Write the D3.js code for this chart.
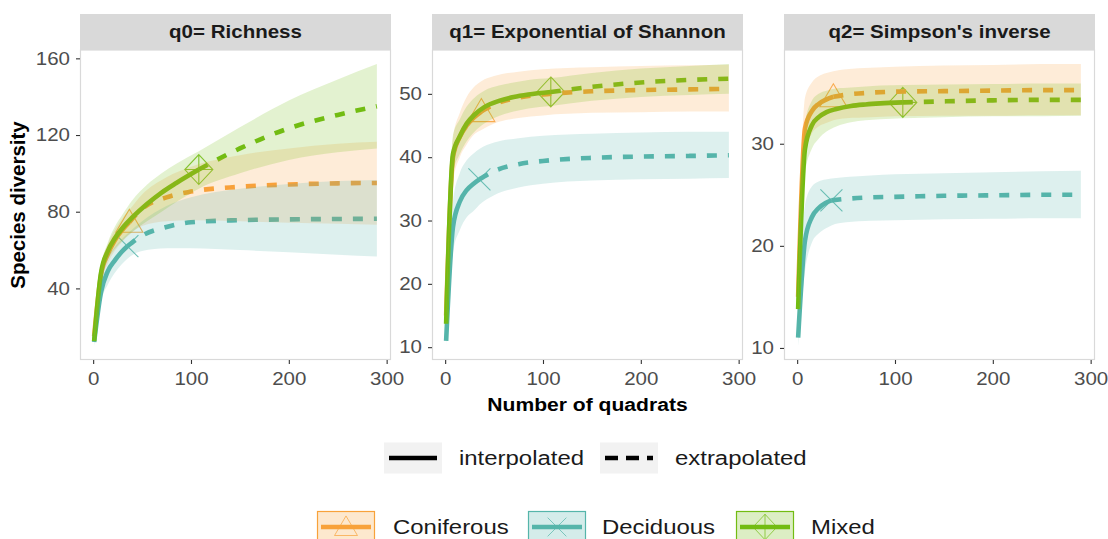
<!DOCTYPE html>
<html>
<head>
<meta charset="utf-8">
<script src="https://cdn.jsdelivr.net/npm/d3@7"></script>
<style>
  body { margin: 0; background: #fff; }
  text { font-family: "Liberation Sans", Arial, sans-serif; }
</style>
</head>
<body>
<svg id="chart" width="1108" height="539"></svg>
<script>
// ---- data -------------------------------------------------------------
const sites = ["Coniferous", "Deciduous", "Mixed"];
const siteColors = ["#F8A23A", "#55B5AA", "#72BC12"];
const observedQuadrats = [37, 35, 108];

// sample sizes (number of quadrats) at which the curves are evaluated
const quadratsConiferous = [1, 8, 15, 22, 29, 37, 50, 75, 100, 150, 200, 250, 290];
const quadratsDeciduous  = [1, 8, 15, 22, 29, 35, 50, 75, 100, 150, 200, 250, 290];
const quadratsMixed      = [1, 8, 15, 22, 30, 40, 55, 70, 85, 108, 150, 200, 250, 290];

// q0 – species richness
const q0Coniferous   = [15, 47, 58, 65, 70, 74.5, 81.5, 87.5, 90.5, 93, 94.2, 94.8, 95];
const q0ConiferousLo = [13, 43, 53, 59.5, 64, 68, 72.5, 75, 75.5, 75, 74.3, 73.7, 73.2];
const q0ConiferousHi = [17, 51, 63, 70.5, 76, 81, 89, 98, 103.5, 109.5, 113, 115.5, 116.5];
const q0Deciduous    = [12, 38, 49, 54.5, 59, 62, 67.5, 72, 74.5, 75.6, 76, 76.2, 76.3];
const q0DeciduousLo  = [10, 33, 42, 48, 52.5, 55.5, 59.5, 61, 61, 60, 58.8, 57.5, 56.6];
const q0DeciduousHi  = [14, 43, 56, 61.5, 65.5, 68.5, 75, 83, 87.5, 92, 94.5, 96, 96.6];
const q0Mixed        = [12.5, 48, 59.5, 66, 71.5, 77, 84, 90, 95, 102, 113, 123.5, 130.5, 135];
const q0MixedLo      = [11, 45, 55, 60.5, 65, 69.5, 75, 80, 85, 92, 100, 107, 111, 113];
const q0MixedHi      = [14, 51, 64, 72, 78.5, 86, 94, 100, 105, 111.5, 124, 138, 149, 157];

// q1 – exponential of Shannon entropy
const q1Coniferous   = [15, 40, 43.2, 45, 46.2, 47.2, 48.3, 49.4, 49.9, 50.4, 50.6, 50.7, 50.8];
const q1ConiferousLo = [13.5, 36, 40, 42, 43.5, 44.3, 45.3, 46.2, 46.6, 47, 47.1, 47.2, 47.2];
const q1ConiferousHi = [16.5, 43, 47, 49.5, 51, 52, 52.8, 53.5, 53.9, 54.2, 54.4, 54.5, 54.6];
const q1Deciduous    = [11, 29, 33, 34.8, 35.8, 36.5, 37.8, 38.9, 39.4, 39.9, 40.1, 40.2, 40.3];
const q1DeciduousLo  = [10.2, 25, 28.5, 30.5, 31.5, 32.5, 34, 35.2, 35.8, 36.3, 36.5, 36.6, 36.7];
const q1DeciduousHi  = [12, 33, 37.5, 39.5, 40.6, 41.3, 42.3, 43, 43.4, 43.7, 43.9, 44, 44];
const q1Mixed        = [13.7, 40.5, 43.3, 45.3, 46.7, 47.9, 48.9, 49.5, 49.9, 50.3, 51.1, 51.8, 52.2, 52.4];
const q1MixedLo      = [12.5, 37.5, 40.5, 42.5, 44, 45.3, 46.5, 47.2, 47.7, 48.1, 48.9, 49.5, 49.8, 50];
const q1MixedHi      = [15, 43.5, 46, 48, 49.4, 50.5, 51.3, 51.8, 52.2, 52.5, 53.3, 54, 54.4, 54.7];

// q2 – inverse Simpson
const q2Coniferous   = [15, 31.5, 33.2, 33.9, 34.3, 34.6, 34.8, 35, 35.1, 35.15, 35.2, 35.25, 35.25];
const q2ConiferousLo = [13.5, 29, 31, 31.7, 32, 32.3, 32.5, 32.6, 32.7, 32.75, 32.75, 32.8, 32.8];
const q2ConiferousHi = [16.5, 34.5, 36, 36.6, 36.9, 37.1, 37.3, 37.45, 37.55, 37.65, 37.7, 37.8, 37.8];
const q2Deciduous    = [11, 20.5, 22.8, 23.7, 24.2, 24.45, 24.6, 24.75, 24.8, 24.9, 24.95, 25, 25];
const q2DeciduousLo  = [10.2, 17.5, 20.3, 21.2, 21.7, 22, 22.3, 22.45, 22.5, 22.6, 22.65, 22.7, 22.7];
const q2DeciduousHi  = [12, 24, 25.8, 26.3, 26.5, 26.6, 26.75, 26.9, 27, 27.1, 27.2, 27.3, 27.35];
const q2Mixed        = [13.8, 29.5, 31.8, 32.6, 33.1, 33.4, 33.7, 33.85, 33.95, 34.05, 34.15, 34.25, 34.3, 34.3];
const q2MixedLo      = [12.5, 27, 29.5, 30.5, 31.2, 31.7, 32.1, 32.3, 32.4, 32.5, 32.6, 32.7, 32.7, 32.75];
const q2MixedHi      = [15, 32, 34.2, 34.9, 35.2, 35.4, 35.5, 35.6, 35.7, 35.75, 35.8, 35.85, 35.9, 35.9];

const panelTitles = ["q0= Richness", "q1= Exponential of Shannon", "q2= Simpson's inverse"];
const yTickValues = [[40, 80, 120, 160], [10, 20, 30, 40, 50], [10, 20, 30]];
const xTickValues = [0, 100, 200, 300];
const lineTypeLabels = ["interpolated", "extrapolated"];

// ---- assemble series ---------------------------------------------------
const quadrats = [quadratsConiferous, quadratsDeciduous, quadratsMixed];
const estimates = [
  [[q0Coniferous, q0ConiferousLo, q0ConiferousHi], [q0Deciduous, q0DeciduousLo, q0DeciduousHi], [q0Mixed, q0MixedLo, q0MixedHi]],
  [[q1Coniferous, q1ConiferousLo, q1ConiferousHi], [q1Deciduous, q1DeciduousLo, q1DeciduousHi], [q1Mixed, q1MixedLo, q1MixedHi]],
  [[q2Coniferous, q2ConiferousLo, q2ConiferousHi], [q2Deciduous, q2DeciduousLo, q2DeciduousHi], [q2Mixed, q2MixedLo, q2MixedHi]]
];

// ---- layout ------------------------------------------------------------
const svg = d3.select("#chart");
const panelLefts = [80, 432, 784];
const panelWidth = 311;
const stripTop = 14, plotTop = 50, plotBottom = 360;
const dash = "10,11";
const lineW = 4.6;
const widen = 1.14;   // horizontal widening of the text glyphs

function expand(lo, hi) { const e = (hi - lo) * 0.05; return [lo - e, hi + e]; }

// widen text horizontally while keeping its anchor point fixed
function stretch(sel) {
  sel.each(function () {
    const ax = +(this.getAttribute("x") || 0);
    d3.select(this).attr("transform", `translate(${ax},0) scale(${widen},1) translate(${-ax},0)`);
  });
}

// marker shapes (drawn around 0,0)
function markerPath(siteIndex, s) {
  const p = d3.path();
  if (siteIndex === 0) {            // open triangle
    p.moveTo(0, -13 * s); p.lineTo(13.5 * s, 10 * s); p.lineTo(-13.5 * s, 10 * s); p.closePath();
  } else if (siteIndex === 1) {     // cross
    p.moveTo(-11 * s, -11 * s); p.lineTo(11 * s, 11 * s);
    p.moveTo(11 * s, -11 * s); p.lineTo(-11 * s, 11 * s);
  } else {                          // diamond with plus
    p.moveTo(0, -15 * s); p.lineTo(14 * s, 0); p.lineTo(0, 15 * s); p.lineTo(-14 * s, 0); p.closePath();
    p.moveTo(0, -15 * s); p.lineTo(0, 15 * s);
    p.moveTo(-14 * s, 0); p.lineTo(14 * s, 0);
  }
  return p.toString();
}

const allX = quadrats.flat();
const xDomain = expand(d3.min(allX), d3.max(allX));

panelTitles.forEach((title, pi) => {
  const left = panelLefts[pi], right = left + panelWidth;
  const vals = estimates[pi].flat(2);
  const x = d3.scaleLinear().domain(xDomain).range([left, right]);
  const y = d3.scaleLinear().domain(expand(d3.min(vals), d3.max(vals))).range([plotBottom, plotTop]);

  const g = svg.append("g");

  // strip
  g.append("rect").attr("x", left).attr("y", stripTop).attr("width", panelWidth)
    .attr("height", plotTop - stripTop).attr("fill", "#d9d9d9");
  g.append("text").attr("x", (left + right) / 2).attr("y", (stripTop + plotTop) / 2 + 6.5)
    .attr("text-anchor", "middle").attr("font-size", 18).attr("font-weight", "bold")
    .attr("fill", "#1a1a1a").text(title).call(stretch);

  // panel background + border
  g.append("rect").attr("x", left + 0.5).attr("y", plotTop).attr("width", panelWidth - 1)
    .attr("height", plotBottom - plotTop - 0.5).attr("fill", "#fff")
    .attr("stroke", "#d9d9d9").attr("stroke-width", 1.2);

  const clipId = "clip" + pi;
  svg.append("clipPath").attr("id", clipId).append("rect")
    .attr("x", left).attr("y", plotTop).attr("width", panelWidth).attr("height", plotBottom - plotTop);
  const plot = g.append("g").attr("clip-path", `url(#${clipId})`);

  const lineGen = d3.line().x(d => x(d[0])).y(d => y(d[1])).curve(d3.curveMonotoneX);
  const areaGen = d3.area().x(d => x(d[0])).y0(d => y(d[1])).y1(d => y(d[2])).curve(d3.curveMonotoneX);

  // observed-sample markers
  sites.forEach((s, si) => {
    const xs = quadrats[si];
    const est = estimates[pi][si][0];
    const oi = xs.indexOf(observedQuadrats[si]);
    plot.append("path").attr("d", markerPath(si, 1))
      .attr("transform", `translate(${x(xs[oi])},${y(est[oi])})`)
      .attr("fill", "none").attr("stroke", siteColors[si]).attr("stroke-width", 1.1)
      .attr("stroke-opacity", 0.85);
  });

  // interpolated (solid) and extrapolated (dashed) curves
  sites.forEach((s, si) => {
    const xs = quadrats[si];
    const est = estimates[pi][si][0];
    const pts = xs.map((v, i) => [v, est[i]]);
    const oi = xs.indexOf(observedQuadrats[si]);
    plot.append("path").attr("d", lineGen(pts.slice(0, oi + 1)))
      .attr("fill", "none").attr("stroke", siteColors[si]).attr("stroke-width", lineW);
    plot.append("path").attr("d", lineGen(pts.slice(oi)))
      .attr("fill", "none").attr("stroke", siteColors[si]).attr("stroke-width", lineW)
      .attr("stroke-dasharray", dash);
  });

  // confidence bands
  sites.forEach((s, si) => {
    const xs = quadrats[si];
    const [est, lo, hi] = estimates[pi][si];
    plot.append("path").attr("d", areaGen(xs.map((v, i) => [v, lo[i], hi[i]])))
      .attr("fill", siteColors[si]).attr("fill-opacity", 0.2).attr("stroke", "none");
  });

  // axes
  const yAxis = d3.axisLeft(y).tickValues(yTickValues[pi]).tickSize(4).tickPadding(6);
  const ya = g.append("g").attr("transform", `translate(${left},0)`).call(yAxis);
  const xAxis = d3.axisBottom(x).tickValues(xTickValues).tickSize(4).tickPadding(4);
  const xa = g.append("g").attr("transform", `translate(0,${plotBottom})`).call(xAxis);
  [ya, xa].forEach(a => {
    a.select(".domain").remove();
    a.selectAll(".tick line").attr("stroke", "#333").attr("stroke-width", 1.1);
    a.selectAll(".tick text").attr("fill", "#4d4d4d").attr("font-size", 18)
      .attr("font-family", "'Liberation Sans', Arial, sans-serif");
  });
  xa.selectAll(".tick text").attr("dy", "0.95em");
  ya.selectAll(".tick text").call(stretch);
  xa.selectAll(".tick text").call(stretch);
});

// axis titles
svg.append("text").attr("transform", "translate(25,205) rotate(-90)")
  .attr("text-anchor", "middle").attr("font-size", 20.5).attr("font-weight", "bold")
  .attr("fill", "#000").text("Species diversity");
svg.append("text").attr("x", 587.5).attr("y", 411)
  .attr("text-anchor", "middle").attr("font-size", 18.5).attr("font-weight", "bold")
  .attr("fill", "#000").text("Number of quadrats").call(stretch);

// ---- legends -----------------------------------------------------------
const keyW = 58, keyH = 31;
const lt = svg.append("g");
[[384, 459], [600, 675]].forEach(([kx, tx], i) => {
  const cy = 458;
  lt.append("rect").attr("x", kx).attr("y", cy - keyH / 2).attr("width", keyW).attr("height", keyH)
    .attr("fill", "#f2f2f2");
  lt.append("line").attr("x1", kx + 5).attr("x2", kx + keyW - 5).attr("y1", cy).attr("y2", cy)
    .attr("stroke", "#000").attr("stroke-width", lineW)
    .attr("stroke-dasharray", i === 1 ? "13,8" : null);
  lt.append("text").attr("x", tx).attr("y", cy + 7.5).attr("font-size", 21)
    .attr("fill", "#1a1a1a").text(lineTypeLabels[i]).call(stretch);
});

const sl = svg.append("g");
const siteKeyX = [317, 528, 736], siteTextX = [393, 602, 811];
sites.forEach((s, si) => {
  const kx = siteKeyX[si], cy = 527;
  sl.append("rect").attr("x", kx + 0.5).attr("y", cy - keyH / 2).attr("width", keyW - 1).attr("height", keyH)
    .attr("fill", siteColors[si]).attr("fill-opacity", 0.25)
    .attr("stroke", siteColors[si]).attr("stroke-width", 1.2);
  sl.append("path").attr("d", markerPath(si, 0.85))
    .attr("transform", `translate(${kx + keyW / 2},${cy})`)
    .attr("fill", "none").attr("stroke", siteColors[si]).attr("stroke-width", 1).attr("stroke-opacity", 0.7);
  sl.append("line").attr("x1", kx + 4).attr("x2", kx + keyW - 4).attr("y1", cy).attr("y2", cy)
    .attr("stroke", siteColors[si]).attr("stroke-width", lineW);
  sl.append("text").attr("x", siteTextX[si]).attr("y", cy + 7.5).attr("font-size", 21)
    .attr("fill", "#1a1a1a").text(s).call(stretch);
});
</script>
</body>
</html>
